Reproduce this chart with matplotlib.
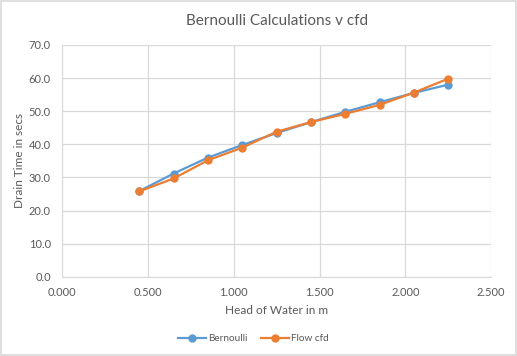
import matplotlib
matplotlib.use("Agg")
import matplotlib.pyplot as plt
from matplotlib.patches import Rectangle

head = [0.45, 0.65, 0.85, 1.05, 1.25, 1.45, 1.65, 1.85, 2.05, 2.25]
bernoulli = [25.9, 31.2, 36.0, 39.8, 43.4, 46.7, 49.8, 52.7, 55.5, 58.0]
flow_cfd = [25.8, 29.7, 35.2, 39.0, 43.8, 46.7, 49.2, 51.9, 55.6, 59.8]

x_ticks = [0.0, 0.5, 1.0, 1.5, 2.0, 2.5]
y_ticks = [0, 10, 20, 30, 40, 50, 60, 70]

TEXT = "#595959"
GRID = "#d9d9d9"

plt.rcParams["font.family"] = ["Lato", "DejaVu Sans"]

fig = plt.figure(figsize=(5.17, 3.56), dpi=100)
fig.patches.append(Rectangle((0.002, 0.003), 0.996, 0.994, transform=fig.transFigure,
                             fill=False, edgecolor=GRID, linewidth=1.2))
ax = fig.add_axes([0.120, 0.222, 0.830, 0.652])

ax.plot(head, bernoulli, color="#5B9BD5", marker="o", markersize=5, linewidth=1.6,
        label="Bernoulli", zorder=3)
ax.plot(head, flow_cfd, color="#ED7D31", marker="o", markersize=5, linewidth=1.6,
        label="Flow cfd", zorder=4)

ax.set_xlim(0, 2.5)
ax.set_ylim(0, 70)
ax.set_xticks(x_ticks)
ax.set_yticks(y_ticks)
ax.set_xticklabels([f"{v:.3f}" for v in x_ticks])
ax.set_yticklabels([f"{v:.1f}" for v in y_ticks])
ax.grid(True, color=GRID, linewidth=0.9)
ax.set_axisbelow(True)
for side in ["top", "right"]:
    ax.spines[side].set_visible(False)
for side in ["left", "bottom"]:
    ax.spines[side].set_color(GRID)
ax.tick_params(axis="y", length=0, labelsize=8, colors=TEXT, pad=8)
ax.tick_params(axis="x", length=0, labelsize=8, colors=TEXT, pad=7)

ax.set_title("Bernoulli Calculations v cfd", fontsize=11, color=TEXT, pad=14)
ax.set_xlabel("Head of Water in m", fontsize=8.5, color=TEXT, labelpad=5)
ax.set_ylabel("Drain Time in secs", fontsize=8.5, color=TEXT, labelpad=3)

leg = fig.legend(loc="center", bbox_to_anchor=(0.49, 0.048), ncol=2, frameon=False,
                 fontsize=7.2, handlelength=2.8, columnspacing=1.4, handletextpad=0.2)
for t in leg.get_texts():
    t.set_color(TEXT)

fig.savefig("out.png", dpi=100)
